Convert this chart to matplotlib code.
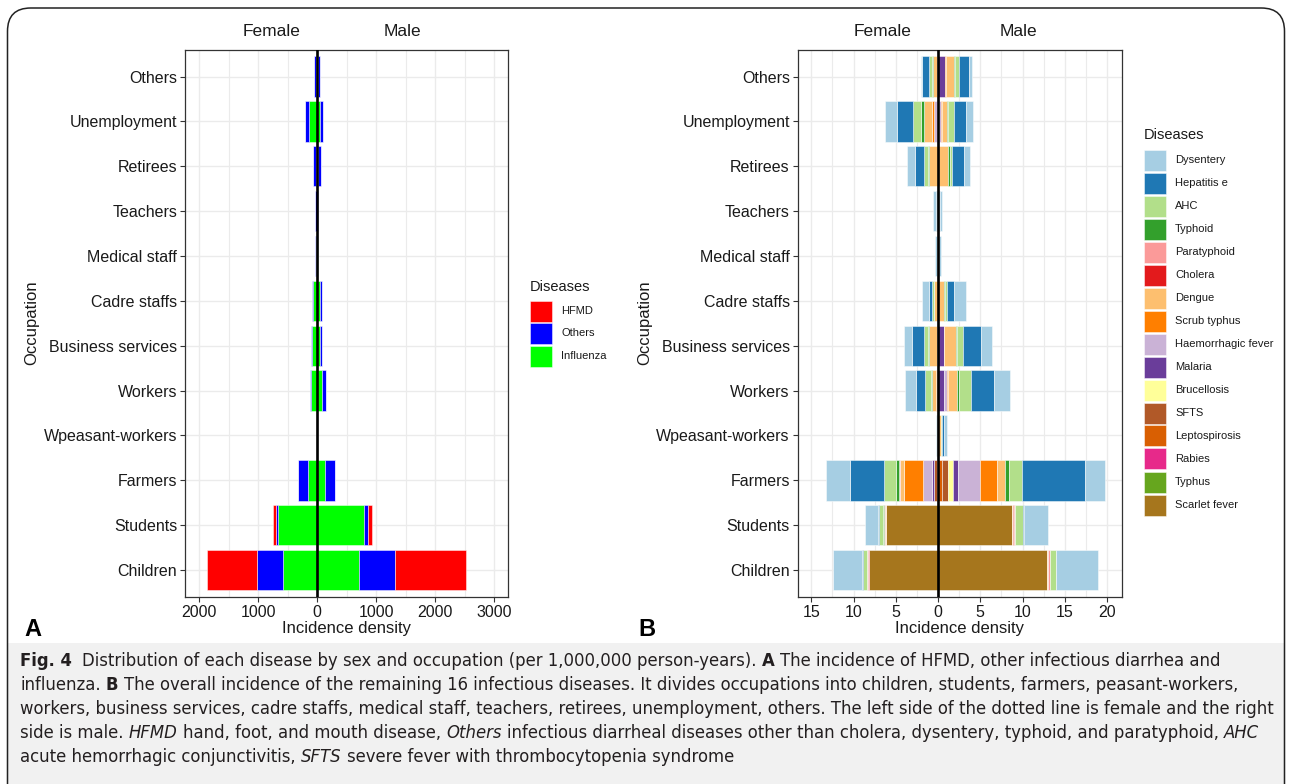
import numpy as np
import matplotlib
matplotlib.use("Agg")
import matplotlib.pyplot as plt
from matplotlib.patches import Rectangle, FancyBboxPatch

plt.rcParams['font.family'] = ['Liberation Sans', 'DejaVu Sans']

# ---------------------------------------------------------------- data
occupations = ["Children", "Students", "Farmers", "Wpeasant-workers", "Workers",
               "Business services", "Cadre staffs", "Medical staff", "Teachers",
               "Retirees", "Unemployment", "Others"]

# Panel A (per 1,000,000 person-years); stacked from the centre outwards
diseases_a = ["HFMD", "Others", "Influenza"]
colors_a = ["#FF0000", "#0000FF", "#00FF00"]
influenza_f = [576, 656, 147, 3, 95, 90, 70, 15, 8, 18, 130, 11]
others_f = [447, 39, 175, 2, 30, 15, 10, 25, 32, 50, 74, 35]
hfmd_f = [841, 51, 0, 0, 0, 0, 0, 0, 0, 0, 0, 0]
influenza_m = [712, 797, 141, 3, 85, 56, 56, 8, 3, 15, 56, 10]
others_m = [615, 67, 169, 2, 62, 34, 29, 5, 5, 47, 46, 41]
hfmd_m = [1192, 68, 0, 0, 0, 0, 0, 0, 0, 0, 0, 0]

# Panel B: remaining 16 diseases
diseases_b = ["Dysentery", "Hepatitis e", "AHC", "Typhoid", "Paratyphoid", "Cholera",
              "Dengue", "Scrub typhus", "Haemorrhagic fever", "Malaria", "Brucellosis",
              "SFTS", "Leptospirosis", "Rabies", "Typhus", "Scarlet fever"]
colors_b = ["#A6CEE3", "#1F78B4", "#B2DF8A", "#33A02C", "#FB9A99", "#E31A1C",
            "#FDBF6F", "#FF7F00", "#CAB2D6", "#6A3D9A", "#FFFF99", "#B15928",
            "#D95F02", "#E7298A", "#66A61E", "#A6761D"]

female_b = {
    "Dysentery":          [3.51, 1.50, 2.84, 0.10, 1.26, 0.99, 0.79, 0.25, 0.34, 0.95, 1.42, 0.16],
    "Hepatitis e":        [0.05, 0.12, 4.06, 0.05, 1.10, 1.46, 0.39, 0.10, 0.10, 1.14, 1.89, 0.83],
    "AHC":                [0.50, 0.51, 1.38, 0.00, 0.67, 0.40, 0.16, 0.04, 0.10, 0.40, 0.95, 0.28],
    "Typhoid":            [0.03, 0.08, 0.39, 0.00, 0.12, 0.12, 0.08, 0.00, 0.00, 0.12, 0.39, 0.16],
    "Paratyphoid":        [0.15, 0.10, 0.12, 0.00, 0.00, 0.00, 0.00, 0.00, 0.00, 0.00, 0.00, 0.00],
    "Cholera":            [0.05, 0.02, 0.00, 0.00, 0.00, 0.00, 0.00, 0.00, 0.00, 0.00, 0.00, 0.00],
    "Dengue":             [0.04, 0.07, 0.39, 0.05, 0.50, 1.00, 0.43, 0.00, 0.05, 1.09, 0.95, 0.50],
    "Scrub typhus":       [0.02, 0.05, 2.29, 0.00, 0.12, 0.00, 0.00, 0.00, 0.00, 0.00, 0.24, 0.00],
    "Haemorrhagic fever": [0.00, 0.00, 1.07, 0.00, 0.04, 0.00, 0.00, 0.00, 0.00, 0.00, 0.30, 0.00],
    "Malaria":            [0.00, 0.00, 0.20, 0.00, 0.10, 0.09, 0.00, 0.00, 0.00, 0.00, 0.13, 0.08],
    "Brucellosis":        [0.00, 0.00, 0.00, 0.00, 0.00, 0.00, 0.00, 0.00, 0.00, 0.00, 0.00, 0.00],
    "SFTS":               [0.00, 0.00, 0.41, 0.00, 0.00, 0.00, 0.00, 0.00, 0.00, 0.00, 0.00, 0.00],
    "Leptospirosis":      [0.00, 0.00, 0.10, 0.00, 0.00, 0.00, 0.00, 0.00, 0.00, 0.00, 0.00, 0.00],
    "Rabies":             [0.00, 0.00, 0.00, 0.00, 0.00, 0.00, 0.00, 0.00, 0.00, 0.00, 0.00, 0.00],
    "Typhus":             [0.00, 0.00, 0.00, 0.00, 0.00, 0.00, 0.00, 0.00, 0.00, 0.00, 0.00, 0.00],
    "Scarlet fever":      [8.13, 6.15, 0.00, 0.00, 0.00, 0.00, 0.00, 0.00, 0.00, 0.00, 0.00, 0.00],
}
male_b = {
    "Dysentery":          [4.90, 2.91, 2.37, 0.28, 1.85, 1.38, 1.38, 0.17, 0.20, 0.71, 0.87, 0.40],
    "Hepatitis e":        [0.05, 0.15, 7.42, 0.30, 2.76, 2.05, 0.79, 0.10, 0.10, 1.42, 1.42, 1.18],
    "AHC":                [0.65, 0.84, 1.58, 0.15, 1.46, 0.71, 0.32, 0.05, 0.12, 0.28, 0.67, 0.47],
    "Typhoid":            [0.05, 0.10, 0.51, 0.00, 0.16, 0.16, 0.08, 0.00, 0.00, 0.16, 0.16, 0.16],
    "Paratyphoid":        [0.20, 0.13, 0.00, 0.00, 0.00, 0.00, 0.00, 0.00, 0.00, 0.00, 0.00, 0.00],
    "Cholera":            [0.05, 0.02, 0.00, 0.00, 0.00, 0.00, 0.00, 0.00, 0.00, 0.00, 0.00, 0.00],
    "Dengue":             [0.10, 0.10, 0.90, 0.30, 1.10, 1.42, 0.71, 0.00, 0.05, 1.22, 0.60, 0.87],
    "Scrub typhus":       [0.00, 0.05, 2.05, 0.00, 0.12, 0.00, 0.00, 0.00, 0.00, 0.00, 0.16, 0.16],
    "Haemorrhagic fever": [0.00, 0.00, 2.60, 0.00, 0.36, 0.00, 0.00, 0.00, 0.00, 0.00, 0.20, 0.00],
    "Malaria":            [0.00, 0.00, 0.51, 0.00, 0.71, 0.71, 0.00, 0.00, 0.00, 0.00, 0.10, 0.83],
    "Brucellosis":        [0.00, 0.00, 0.67, 0.00, 0.00, 0.00, 0.00, 0.00, 0.00, 0.00, 0.00, 0.00],
    "SFTS":               [0.00, 0.00, 0.69, 0.00, 0.00, 0.00, 0.00, 0.00, 0.00, 0.00, 0.00, 0.00],
    "Leptospirosis":      [0.00, 0.00, 0.45, 0.00, 0.00, 0.00, 0.00, 0.00, 0.00, 0.00, 0.00, 0.00],
    "Rabies":             [0.00, 0.00, 0.00, 0.00, 0.00, 0.00, 0.00, 0.00, 0.00, 0.00, 0.00, 0.00],
    "Typhus":             [0.00, 0.00, 0.00, 0.00, 0.00, 0.00, 0.00, 0.00, 0.00, 0.00, 0.00, 0.00],
    "Scarlet fever":      [12.90, 8.76, 0.00, 0.00, 0.00, 0.00, 0.00, 0.00, 0.00, 0.00, 0.00, 0.00],
}

ticks_a = [-2000, -1000, 0, 1000, 2000, 3000]
ticks_b = [-15, -10, -5, 0, 5, 10, 15, 20]

caption_lines = [
    [("Fig. 4", "bold"), ("  ", None),
     ("Distribution of each disease by sex and occupation (per 1,000,000 person-years).", "normal"),
     ("A", "bold"), ("The incidence of HFMD, other infectious diarrhea and", "normal")],
    [("influenza.", "normal"), ("B", "bold"),
     ("The overall incidence of the remaining 16 infectious diseases. It divides occupations into "
      "children, students, farmers, peasant-workers,", "normal")],
    [("workers, business services, cadre staffs, medical staff, teachers, retirees, unemployment, "
      "others. The left side of the dotted line is female and the right", "normal")],
    [("side is male.", "normal"), ("HFMD", "italic"), ("hand, foot, and mouth disease,", "normal"),
     ("Others", "italic"),
     ("infectious diarrheal diseases other than cholera, dysentery, typhoid, and paratyphoid,", "normal"),
     ("AHC", "italic")],
    [("acute hemorrhagic conjunctivitis,", "normal"), ("SFTS", "italic"),
     ("severe fever with thrombocytopenia syndrome", "normal")],
]

# ---------------------------------------------------------------- layout helpers
W, H = 1292, 784
fig = plt.figure(figsize=(W / 100, H / 100), dpi=100)
fig.patch.set_facecolor("white")


def fx(x):
    return x / W


def fy(y):
    return 1 - y / H


def rect(l, t, r, b):
    return [fx(l), fy(b), (r - l) / W, (b - t) / H]


TXT = "#1a1a1a"
GRID = "#EBEBEB"
EDGE = (1, 1, 1, 0.55)

# rounded frame and caption shading
fig.add_artist(Rectangle((fx(8), 0), fx(1284) - fx(8), fy(643), transform=fig.transFigure,
                         facecolor="#F1F1F1", edgecolor="none", zorder=-5))
fig.add_artist(FancyBboxPatch((fx(7.5), -0.05), fx(1284.5) - fx(7.5), fy(8) + 0.05,
                              boxstyle="round,pad=0,rounding_size=0.018",
                              transform=fig.transFigure, facecolor="none",
                              edgecolor="#222222", linewidth=1.1, zorder=10,
                              mutation_aspect=W / H))


def style_axes(ax, xlim, ticks, minor_ticks):
    ax.set_xticks(ticks)
    ax.set_xticklabels([str(abs(t)) for t in ticks])
    ax.set_xticks(minor_ticks, minor=True)
    ax.set_yticks(np.arange(1, len(occupations) + 1))
    ax.set_yticklabels(occupations)
    ax.set_xlim(*xlim)
    ax.set_ylim(0.4, len(occupations) + 0.6)
    ax.tick_params(axis="both", which="major", length=3.5, width=0.8, color="#333333",
                   labelsize=11.5, labelcolor=TXT, pad=2)
    ax.tick_params(axis="x", which="minor", length=0)
    ax.grid(True, which="major", color=GRID, linewidth=1.0, zorder=0)
    ax.grid(True, which="minor", axis="x", color=GRID, linewidth=0.8, zorder=0)
    ax.set_axisbelow(True)
    for s in ax.spines.values():
        s.set_color("#333333")
        s.set_linewidth(0.9)
    ax.axvline(0, color="black", linewidth=1.9, zorder=5)


def stacked(ax, names, colors, female, male):
    y = np.arange(1, len(occupations) + 1)
    cum_f = np.zeros(len(y))
    cum_m = np.zeros(len(y))
    # innermost level is the last one in the legend order
    for name, col in zip(reversed(names), reversed(colors)):
        vf = np.asarray(female[name], dtype=float)
        vm = np.asarray(male[name], dtype=float)
        ax.barh(y, -vf, left=-cum_f, height=0.9, color=col, edgecolor=EDGE, linewidth=0.6,
                zorder=3)
        ax.barh(y, vm, left=cum_m, height=0.9, color=col, edgecolor=EDGE, linewidth=0.6,
                zorder=3)
        cum_f += vf
        cum_m += vm


def legend_block(x, y_title, y_first, step, names, colors):
    fig.text(fx(x), fy(y_title), "Diseases", fontsize=10.5, color=TXT, ha="left", va="center")
    for i, (n, c) in enumerate(zip(names, colors)):
        yc = y_first + i * step
        fig.add_artist(Rectangle((fx(x), fy(yc + 10.5)), 22 / W, 21 / H,
                                 transform=fig.transFigure, facecolor=c,
                                 edgecolor=EDGE, linewidth=0.6))
        fig.text(fx(x + 31), fy(yc), n, fontsize=8, color=TXT, ha="left", va="center")


# ---------------------------------------------------------------- panel A
axA = fig.add_axes(rect(184.7, 49.6, 508.3, 597))
style_axes(axA, (-2243, 3240), ticks_a, np.arange(-2000, 3001, 500))
stacked(axA, diseases_a, colors_a,
        {"HFMD": hfmd_f, "Others": others_f, "Influenza": influenza_f},
        {"HFMD": hfmd_m, "Others": others_m, "Influenza": influenza_m})
fig.text(fx(271.5), fy(32), "Female", fontsize=12.5, color=TXT, ha="center", va="center")
fig.text(fx(402), fy(32), "Male", fontsize=12.5, color=TXT, ha="center", va="center")
fig.text(fx(32), fy(323), "Occupation", fontsize=12, color=TXT, ha="center", va="center",
         rotation=90)
fig.text(fx(346.5), fy(628), "Incidence density", fontsize=12, color=TXT, ha="center",
         va="center")
fig.text(fx(33), fy(629), "A", fontsize=17, fontweight="bold", color="black", ha="center",
         va="center")
legend_block(530, 287, 311, 22.5, diseases_a, colors_a)

# ---------------------------------------------------------------- panel B
axB = fig.add_axes(rect(797.5, 49.6, 1121.5, 597))
style_axes(axB, (-16.63, 21.71), ticks_b, np.arange(-15, 20.1, 2.5))
stacked(axB, diseases_b, colors_b, female_b, male_b)
fig.text(fx(883), fy(32), "Female", fontsize=12.5, color=TXT, ha="center", va="center")
fig.text(fx(1018), fy(32), "Male", fontsize=12.5, color=TXT, ha="center", va="center")
fig.text(fx(645), fy(323), "Occupation", fontsize=12, color=TXT, ha="center", va="center",
         rotation=90)
fig.text(fx(959.5), fy(628), "Incidence density", fontsize=12, color=TXT, ha="center",
         va="center")
fig.text(fx(647), fy(629), "B", fontsize=17, fontweight="bold", color="black", ha="center",
         va="center")
legend_block(1144, 135, 160, 23, diseases_b, colors_b)

# ---------------------------------------------------------------- caption
CAP_FAMILY = ["Liberation Sans Narrow", "DejaVu Sans Condensed", "DejaVu Sans"]
CAP_COLOR = "#231F20"
renderer = fig.canvas.get_renderer()


def make_text(x, y, s, size, style):
    kw = dict(fontsize=size, color=CAP_COLOR, ha="left", va="center", family=CAP_FAMILY)
    if style == "bold":
        kw["fontweight"] = "bold"
    elif style == "italic":
        kw["fontstyle"] = "italic"
    return fig.text(fx(x), fy(y), s, **kw)


probe = make_text(0, 0, caption_lines[2][0][0], 10, "normal")
cap_size = 10 * 1255 / probe.get_window_extent(renderer).width
probe.remove()

sp_probe = make_text(0, 0, "a a", cap_size, "normal")
w_aa = make_text(0, 0, "aa", cap_size, "normal")
space_w = sp_probe.get_window_extent(renderer).width - w_aa.get_window_extent(renderer).width
sp_probe.remove()
w_aa.remove()

for li, segs in enumerate(caption_lines):
    y = 661 + li * 24
    x = 20
    first = True
    for s, style in segs:
        if style is None:
            x += space_w * (len(s) - 1)
            continue
        if not first:
            x += space_w
        t = make_text(x, y, s, cap_size, style)
        x = t.get_window_extent(renderer).x1
        first = False

fig.savefig("out.png", dpi=100)
